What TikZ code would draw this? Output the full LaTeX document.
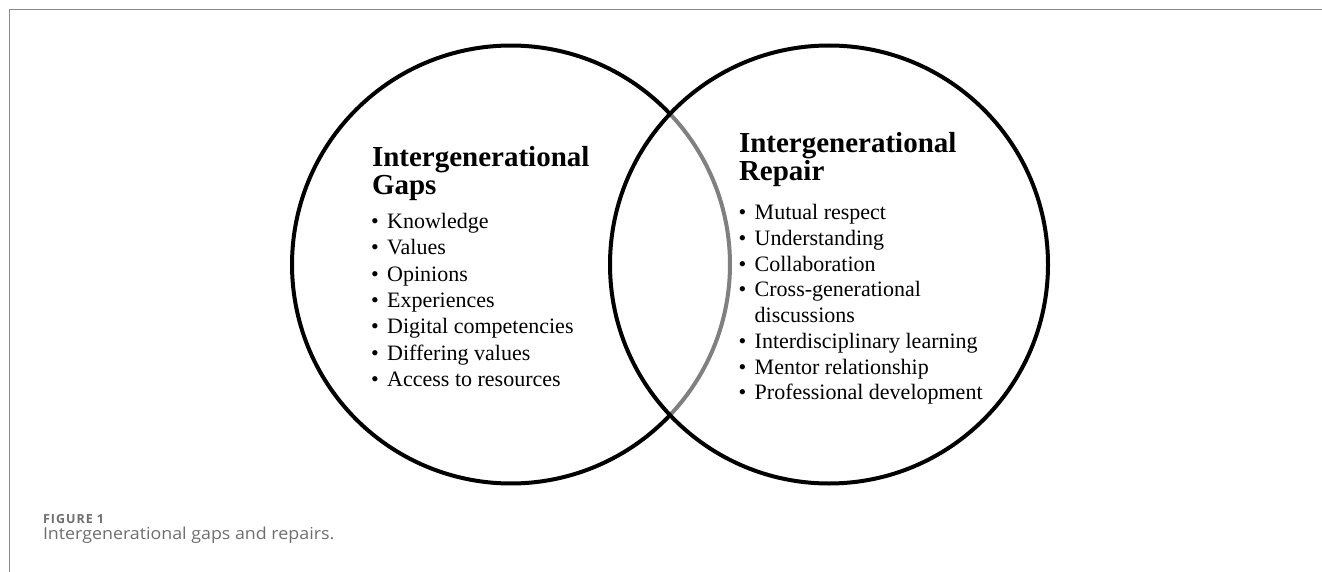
\documentclass[tikz,border=0pt]{standalone}
\usepackage{fontspec}
\setmainfont{Liberation Serif}
\newfontfamily\capfont{Open Sans}
\definecolor{framegray}{HTML}{8A8A8A}
\definecolor{arcgray}{HTML}{808080}
\definecolor{capgray}{HTML}{6E6E6E}
\newcommand{\headfont}{\fontsize{29}{28}\selectfont\bfseries}
\newcommand{\listfontA}{\fontsize{22}{26.3}\selectfont}
\newcommand{\listfontB}{\fontsize{22}{25.7}\selectfont}
\begin{document}
\begin{tikzpicture}[x=1pt,y=1pt,
  venn/.style={circle, minimum size=438, inner sep=0, outer sep=0},
  ring/.style={line width=4, black},
  txt/.style={anchor=base west, inner sep=0, outer sep=0}]
\useasboundingbox (0,0) rectangle (1322,-572);
% panel frame
\draw[framegray, line width=1.6] (9.5,-572) -- (9.5,-9.7) -- (1322,-9.7);

% the two sets
\node[venn] (gaps) at (511,-264.5) {};
\node[venn] (repair) at (829,-264.5) {};
\draw[ring] ([shift={(43.45:219)}]gaps.center) arc[start angle=43.45, end angle=316.55, radius=219];
\draw[arcgray, line width=4] ([shift={(-43.45:219)}]gaps.center) arc[start angle=-43.45, end angle=43.45, radius=219];
\draw[ring] (repair.center) circle[radius=219];

% left set: gaps
\node[txt] (gapsHead) at (372,-166.5) {\headfont\begin{tabular}[t]{@{}l@{}}Intergenerational\\Gaps\end{tabular}};
\node[txt] (gapsList) at (371,-228.6) {\listfontA\begin{tabular}[t]{@{}l@{\hspace{8.5pt}}l@{}}
\textbullet & Knowledge\\
\textbullet & Values\\
\textbullet & Opinions\\
\textbullet & Experiences\\
\textbullet & Digital competencies\\
\textbullet & Differing values\\
\textbullet & Access to resources
\end{tabular}};

% right set: repair
\node[txt] (repairHead) at (739,-152.3) {\headfont\begin{tabular}[t]{@{}l@{}}Intergenerational\\Repair\end{tabular}};
\node[txt] (repairList) at (738.5,-219.8) {\listfontB\begin{tabular}[t]{@{}l@{\hspace{8.5pt}}l@{}}
\textbullet & Mutual respect\\
\textbullet & Understanding\\
\textbullet & Collaboration\\
\textbullet & Cross-generational\\
 & discussions\\
\textbullet & Interdisciplinary learning\\
\textbullet & Mentor relationship\\
\textbullet & Professional development
\end{tabular}};

% caption
\node[txt, text=capgray] (figLabel) at (43,-523) {\capfont\bfseries\fontsize{12.5}{13}\selectfont\addfontfeature{LetterSpace=8}FIGURE 1};
\node[txt, text=capgray] (figTitle) at (43,-539) {\scalebox{1.08}[1]{\capfont\fontsize{16.5}{18}\selectfont Intergenerational gaps and repairs.}};
\end{tikzpicture}
\end{document}
